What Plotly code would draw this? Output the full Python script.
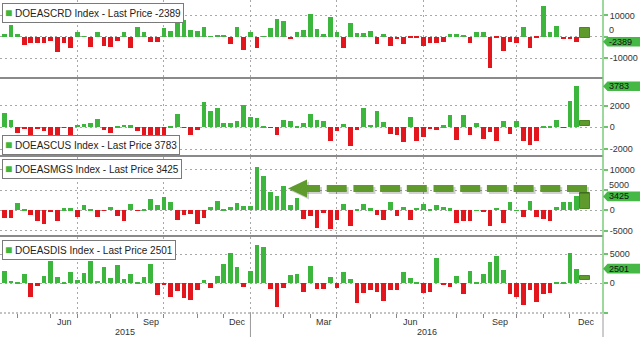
import pandas as pd
import plotly.graph_objects as go

# ---------------- data ----------------
first_week = "2015-04-17"
dates = pd.date_range(first_week, periods=87, freq="7D")

series_names = ["DOEASCRD", "DOEASCUS", "DOEASMGS", "DOEASDIS"]
last_prices = ["-2389", "3783", "3425", "2501"]

crude = [1500, 5500, 1500, -3900, -2800, -2800, -3100, -1900, -7000, -3100, -5200, 2300,
         300, -4700, 2300, -4400, -4700, -1900, 2300, -5500, 4700, 2300, -2300, -2300,
         3900, 2800, 7500, 7800, 3100, 2800, 4400, 300, 900, 900, -3600, 4700,
         -6200, 2300, -5500, 200, 3900, 8100, 7500, -1100, 2000, 3300, 10500, 3600,
         1250, 9400, 2000, -5500, 6600, 1900, 1900, 2700, -3600, 1100, -4400, -1250,
         -3400, -800, -800, -4400, -2800, -2800, -2300, 1400, 1250, 900, -2800, 2200,
         2200, -14800, -500, -6600, -2300, -3100, 4700, -5500, -300, 14500, 2300, 5200,
         -1250, -1250, -2389]
cushing = [1320, 700, -520, -100, -680, -200, -370, -680, -680, -50, -680, 250,
           340, 400, 800, -220, -520, 50, 250, 180, -370, -680, -680, -680,
           -1140, 50, 1230, -50, -740, -220, 2300, 1540, 1780, 400, 400, 615,
           2090, 920, 860, 50, -50, -740, 700, 550, 50, 400, 1230, 700,
           550, -1230, -300, 340, -1750, -220, 1780, 250, 1540, 490, -615, -680,
           -1350, 920, -1290, -920, -120, -220, 180, 1100, -1140, 1170, -680, 400,
           -1050, -430, -1230, 550, -615, 550, -1290, -1600, -1290, 50, 50, 700,
           -60, 2460, 3783]
gasoline = [-1940, -1940, 1700, 320, -1130, -2580, -3390, -320, -2740, 480, 480, -1770,
            1290, 80, -1770, -160, 730, -1290, -2740, 1530, -160, 240, 2900, 1290,
            3300, 1940, -2500, -1130, -970, -3310, -1940, 890, 2340, 80, 730, 1700,
            1130, 1050, 10560, 8390, 4520, 3550, 5890, 1290, 3060, -2180, -1290, -4350,
            -730, -4520, -2500, 1450, -3950, 80, 1530, 480, -1130, -2500, 2100, -1370,
            890, -2500, 650, 1450, 80, 1290, 890, 480, -3150, -2740, -2580, 50,
            -480, -3950, 650, -3150, 2100, 50, -1770, 2340, -1770, -2180, -2740, 730,
            2100, 2100, 3425]
distillates = [2100, 450, 110, 1590, -2270, -400, 1250, 3810, 1020, 100, 1990, 570,
               1820, 3810, 400, 2840, 970, 3130, 800, 1530, 100, 1140, 3240, -1990,
               -150, -2390, -1310, -2560, -2840, -1140, 570, -740, 1250, 3240, 5230, 2730,
               -570, 2100, 6530, 6250, -970, -3980, -740, 1420, 1530, -1420, 3010, -1020,
               -1020, 1140, -850, 1990, 680, -3410, -1590, -1140, -1420, -3010, -1140, -1140,
               1880, 850, 280, -1700, -1420, 4260, -170, -680, 1310, -1820, 2100, 80,
               1590, 3580, 4720, 2270, -1820, -2270, -3690, -1140, -3240, -1820, -1700, 280,
               280, 5110, 2501]

olive_date = "2016-12-18"
olive_base = [-470, 150, 250, 560]
olive_top = [4200, 550, 4300, 1250]

y_tickvals = [[10000, 0, -10000], [2000, 0, -2000], [10000, 5000, 0, -5000], [5000, 0, -5000]]
y_ticktext = [["10000", "0", "-10000"], ["2000", "0", "-2000"],
              ["10000", "5000", "0", "-5000"], ["5000", "0", ""]]
# tick labels that sit right under a last-price tag (panel index, tick value)
raised_ticks = [(0, 0), (2, 5000)]
month_labels = ["Jun", "Sep", "Dec", "Mar", "Jun", "Sep", "Dec"]
month_periods = ["2015-06", "2015-09", "2015-12", "2016-03", "2016-06", "2016-09", "2016-12"]
year_labels = ["2015", "2016"]

series = [crude, cushing, gasoline, distillates]
for s in series:
    assert len(s) == len(dates)

# ---------------- layout geometry ----------------
W, H = 640, 337
ML, MR, MT, MB = 0, 37, 0, 24
PW, PH = W - ML - MR, H - MT - MB
GREEN, RED, OLIVE = "#3db63d", "#e4161d", "#5e9b2c"
FONT = "Arial"

def px(x):
    return x / PW

def py(y):
    return 1 - y / PH

panel_px = [(0, 77), (79, 155), (157, 235), (237, 313)]
zero_px = [36.7, 127.3, 210.3, 283.3]
unit_px = [21.3 / 10000, 21.7 / 2000, 20.3 / 5000, 29.3 / 5000]
yranges = []
for (t, b), z, u in zip(panel_px, zero_px, unit_px):
    yranges.append([-(b - z) / u, (z - t) / u])
domains = [[py(b), py(t)] for t, b in panel_px]

def to_paper(i, val):
    r0, r1 = yranges[i]
    d0, d1 = domains[i]
    return d0 + (val - r0) / (r1 - r0) * (d1 - d0)

px_per_day = 6.655 / 7
x0 = dates[0] - pd.Timedelta(days=4.2 / px_per_day)
x1 = x0 + pd.Timedelta(days=PW / px_per_day)
DAY_MS = 86400000
bar_w = 4.7 / px_per_day * DAY_MS

ext = pd.date_range(first_week, periods=len(dates) + 8, freq="7D")
per_q = ext.to_period("Q")
q_first = [ext[i] for i in range(1, len(ext)) if per_q[i] != per_q[i - 1] and ext[i] <= x1]
per_m = ext.to_period("M")
m_first = [ext[i] for i in range(1, len(ext)) if per_m[i] != per_m[i - 1] and ext[i] < x1]

def month_center(p):
    p = pd.Period(p, freq="M")
    inside = [d for d, q in zip(ext, per_m) if q == p]
    nxt = [d for d, q in zip(ext, per_m) if q == p + 1]
    return inside[0] + (nxt[0] - inside[0]) / 2

first_2016 = [d for d in ext if d.year == 2016][0]
year_pos = [x0 + (first_2016 - x0) / 2, first_2016 + (x1 - first_2016) / 2]

fig = go.Figure()
for i, vals in enumerate(series):
    xa = "x" if i == 0 else f"x{i+1}"
    ya = "y" if i == 0 else f"y{i+1}"
    fig.add_trace(go.Bar(x=dates, y=vals, width=bar_w,
                         marker=dict(color=[GREEN if v >= 0 else RED for v in vals], line=dict(width=0)),
                         xaxis=xa, yaxis=ya, showlegend=False, hoverinfo="skip"))
    fig.add_trace(go.Bar(x=[olive_date], y=[olive_top[i] - olive_base[i]], base=[olive_base[i]],
                         width=10 * DAY_MS,
                         marker=dict(color=OLIVE, line=dict(color="#4d8424", width=1)),
                         xaxis=xa, yaxis=ya, showlegend=False, hoverinfo="skip"))

GRID = "#a8a8a8"
layout = dict(width=W, height=H, margin=dict(l=ML, r=MR, t=MT, b=MB),
              paper_bgcolor="white", plot_bgcolor="white", barmode="overlay",
              font=dict(family=FONT, size=9, color="#333"), bargap=0)
for i in range(4):
    k = "" if i == 0 else str(i + 1)
    xa = dict(type="date", range=[x0, x1], domain=[0, 1], anchor="y" + k,
              tickmode="array", tickvals=q_first, showticklabels=False,
              showgrid=True, gridcolor=GRID, griddash="2px,3px", gridwidth=1,
              zeroline=False, showline=False, ticks="")
    if i == 3:
        xa.update(ticks="outside", ticklen=4, tickcolor="#888",
                  minor=dict(tickmode="array", tickvals=m_first, ticks="outside",
                             ticklen=4, tickcolor="#888", showgrid=False))
    layout["xaxis" + k] = xa
    ttext = list(y_ticktext[i])
    for (pi, tv) in raised_ticks:
        if pi == i:
            ttext[y_tickvals[i].index(tv)] = ""
    layout["yaxis" + k] = dict(domain=domains[i], range=yranges[i], anchor="x" + k, side="right",
                               tickmode="array", tickvals=y_tickvals[i], ticktext=ttext,
                               ticks="outside", ticklen=4, tickwidth=1.5, tickcolor="#6cc46c",
                               tickfont=dict(size=9, color="#333", family=FONT),
                               showgrid=True, gridcolor=GRID, griddash="2px,3px", gridwidth=1,
                               zeroline=False, showline=False)
fig.update_layout(**layout)

shapes = []
annotations = []
# panel separators
for ysep in [78, 156, 236]:
    shapes.append(dict(type="line", xref="paper", yref="paper", x0=0, x1=1, y0=py(ysep), y1=py(ysep),
                       line=dict(color="#8a8a8a", width=2.2), layer="above"))
# bottom dotted axis line
shapes.append(dict(type="line", xref="paper", yref="paper", x0=0, x1=1, y0=0, y1=0,
                   line=dict(color="#888", width=1, dash="2px,2px"), layer="above"))
# right axis line
shapes.append(dict(type="line", xref="paper", yref="paper", x0=1, x1=1, y0=0, y1=1,
                   line=dict(color="#7ccc7c", width=1.5), layer="above"))
# year separators below axis
shapes.append(dict(type="line", xref="x4", yref="paper", x0=first_2016, x1=first_2016, y0=0, y1=-MB / PH,
                   line=dict(color="#9a9a9a", width=1)))
shapes.append(dict(type="line", xref="paper", yref="paper", x0=1, x1=1, y0=0, y1=-MB / PH,
                   line=dict(color="#9a9a9a", width=1)))

# last-price tags
TAG_HALF = 4.8
for i in range(4):
    k = "" if i == 0 else str(i + 1)
    val = float(last_prices[i])
    yp = to_paper(i, val)
    shapes.append(dict(type="path", xref="paper", yref="paper", xsizemode="pixel", ysizemode="pixel",
                       xanchor=1, yanchor=yp,
                       path=f"M0,0 L4.5,{TAG_HALF} L37,{TAG_HALF} L37,-{TAG_HALF} L4.5,-{TAG_HALF} Z",
                       fillcolor="#45b845", line=dict(width=0), layer="above"))
    annotations.append(dict(xref="paper", yref="y" + k, x=1, y=val, xanchor="left", yanchor="middle",
                            xshift=5, text=last_prices[i], showarrow=False, borderpad=0,
                            font=dict(size=9, color="#111", family=FONT)))

# tick labels lifted just above the tag they would collide with
for (pi, tv) in raised_ticks:
    tag_c = to_paper(pi, float(last_prices[pi]))
    annotations.append(dict(xref="paper", yref="paper", x=1, y=tag_c, xanchor="left",
                            yanchor="middle", xshift=5, yshift=11.5, borderpad=0,
                            text=y_ticktext[pi][y_tickvals[pi].index(tv)], showarrow=False,
                            font=dict(size=9, color="#333", family=FONT)))

# legend boxes
legend_top = [3, 135, 159, 240]
for i in range(4):
    annotations.append(dict(xref="paper", yref="paper", x=px(2), y=py(legend_top[i]),
                            xanchor="left", yanchor="top", showarrow=False,
                            text=f"<span style='color:{GREEN};font-size:12px'>■</span> "
                                 f"{series_names[i]} Index - Last Price {last_prices[i]}",
                            font=dict(size=10, color="#222", family=FONT),
                            bgcolor="white", bordercolor="#7a7a7a", borderwidth=1, borderpad=2))

# month & year labels
for lab, per in zip(month_labels, month_periods):
    annotations.append(dict(xref="x4", yref="paper", x=month_center(per), y=py(322),
                            yanchor="middle", text=lab, showarrow=False,
                            font=dict(size=9, color="#333", family=FONT)))
for lab, pos in zip(year_labels, year_pos):
    annotations.append(dict(xref="x4", yref="paper", x=pos, y=py(332),
                            yanchor="middle", text=lab, showarrow=False,
                            font=dict(size=9, color="#333", family=FONT)))

# big dashed arrow in gasoline panel
ay = 188.5
for dx, dy, col in [(2, 2, "rgba(0,0,0,0.18)"), (0, 0, OLIVE)]:
    shapes.append(dict(type="line", xref="paper", yref="paper",
                       x0=px(587 + dx), x1=px(300 + dx), y0=py(ay + dy), y1=py(ay + dy),
                       line=dict(color=col, width=7, dash="20px,6.7px"), layer="above"))
    shapes.append(dict(type="path", xref="paper", yref="paper",
                       path=f"M{px(288+dx)},{py(ay+dy)} L{px(307+dx)},{py(179.5+dy)} "
                            f"L{px(307+dx)},{py(197.5+dy)} Z",
                       fillcolor=col, line=dict(width=0), layer="above"))

fig.update_layout(shapes=shapes, annotations=annotations)
fig.write_html("out.html")
